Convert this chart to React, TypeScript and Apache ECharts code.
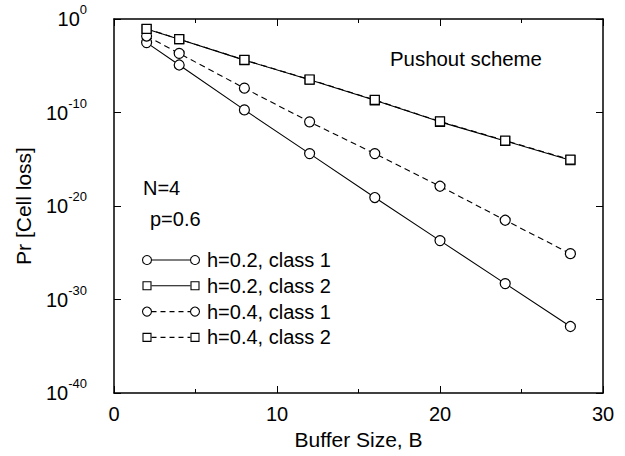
import React, { useEffect, useRef } from 'react';
import * as echarts from 'echarts';

const bufferSizes = [2, 4, 8, 12, 16, 20, 24, 28];
const seriesNames = ['h=0.2, class 1', 'h=0.2, class 2', 'h=0.4, class 1', 'h=0.4, class 2'];
const h02class1 = [3e-3, 1.2e-5, 1.9e-10, 4e-15, 8e-20, 2e-24, 5e-29, 1.3e-33];
const h02class2 = [8.5e-2, 6.8e-3, 4e-5, 3.2e-7, 2e-9, 1e-11, 9e-14, 8e-16];
const h04class1 = [1.5e-2, 2.1e-4, 4e-8, 1e-11, 4e-15, 1.3e-18, 3e-22, 8e-26];
const h04class2 = [9e-2, 7e-3, 4.2e-5, 3.4e-7, 2.2e-9, 1.1e-11, 1e-13, 9e-16];
const seriesValues = [h02class1, h02class2, h04class1, h04class2];
const seriesSymbols = ['circle', 'rect', 'circle', 'rect'];
const seriesDashed = [false, false, true, true];
const annotations = ['Pushout scheme', 'N=4', 'p=0.6'];
// y axis: decades (powers of ten) from 10^-40 to 10^0
const yMinExp = -40;
const yMaxExp = 0;

const FONT = '"Liberation Sans", Arial, Helvetica, sans-serif';

export default function App() {
  const ref = useRef<HTMLDivElement>(null);
  useEffect(() => {
    if (!ref.current) return;
    const chart = echarts.init(ref.current, null, { renderer: 'svg' });
    const gridLeft = 114, gridTop = 19, gridRight = 22, gridBottom = 63;

    const series = seriesNames.map((name, i) => ({
      name,
      type: 'line',
      data: bufferSizes.map((x, j) => [x, Math.log10(seriesValues[i][j])]),
      symbol: seriesSymbols[i],
      symbolSize: seriesSymbols[i] === 'circle' ? 10 : 9,
      showAllSymbol: true,
      lineStyle: { color: '#000', width: 1.1, type: seriesDashed[i] ? [6, 4] : 'solid' },
      itemStyle: { color: '#fff', borderColor: '#000', borderWidth: 1.2 },
      z: 3,
    }));

    const legendEls: any[] = [];
    seriesNames.forEach((name, i) => {
      const y = 260 + i * 25.8;
      const x1 = 147, x2 = 195;
      const sym = seriesSymbols[i];
      legendEls.push({
        type: 'line',
        shape: { x1: x1 + 4.5, y1: y, x2: x2 - 4.5, y2: y },
        style: { stroke: '#000', lineWidth: 1.1, lineDash: seriesDashed[i] ? [5, 4] : null },
      });
      [x1, x2].forEach((cx) => {
        if (sym === 'circle') {
          legendEls.push({ type: 'circle', shape: { cx, cy: y, r: 4.5 }, style: { fill: '#fff', stroke: '#000', lineWidth: 1.1 } });
        } else {
          legendEls.push({ type: 'rect', shape: { x: cx - 4, y: y - 4, width: 8, height: 8 }, style: { fill: '#fff', stroke: '#000', lineWidth: 1.1 } });
        }
      });
      legendEls.push({
        type: 'text', x: 207, y,
        style: { text: name, fill: '#000', font: `20px ${FONT}`, verticalAlign: 'middle' },
      });
    });

    const yFormatter = (v: number) => `{b|10}{s|${Math.round(v)}}`;

    const yAxisBase = {
      type: 'value', min: yMinExp, max: yMaxExp, interval: 10,
      axisLine: { onZero: false, lineStyle: { color: '#000', width: 1.5 } },
      axisTick: { inside: true, length: 7, lineStyle: { color: '#000' } },
      splitLine: { show: false },
    };
    const xAxisBase = {
      type: 'value', min: 0, max: 30, interval: 10,
      axisLine: { onZero: false, lineStyle: { color: '#000', width: 1.5 } },
      axisTick: { inside: true, length: 7, lineStyle: { color: '#000' } },
      minorTick: { show: true, splitNumber: 2, length: 4, lineStyle: { color: '#000' } },
      splitLine: { show: false },
    };

    chart.setOption({
      animation: false,
      backgroundColor: '#fff',
      textStyle: { fontFamily: FONT },
      grid: { left: gridLeft, top: gridTop, right: gridRight, bottom: gridBottom, show: false, containLabel: false, outerBoundsMode: 'none' },
      xAxis: [
        {
          ...xAxisBase,
          name: 'Buffer Size, B', nameLocation: 'middle', nameGap: 29,
          nameTextStyle: { fontSize: 21, color: '#000', fontFamily: FONT },
          axisLabel: { fontSize: 20, color: '#000', margin: 11, fontFamily: FONT },
        },
        { ...xAxisBase, position: 'top', axisLabel: { show: false } },
      ],
      yAxis: [
        {
          ...yAxisBase,
          name: 'Pr [Cell loss]', nameLocation: 'middle', nameGap: 80,
          nameTextStyle: { fontSize: 21, color: '#000', fontFamily: FONT },
          axisLabel: {
            formatter: yFormatter, margin: 27, color: '#000',
            rich: {
              b: { fontSize: 20, lineHeight: 20, color: '#000', fontFamily: FONT },
              s: { fontSize: 13, lineHeight: 14, padding: [0, 0, 19, 0], color: '#000', fontFamily: FONT },
            },
          },
        },
        { ...yAxisBase, position: 'right', axisLabel: { show: false } },
      ],
      graphic: [
        { type: 'text', x: 390, y: 59, style: { text: annotations[0], fill: '#000', font: `20.4px ${FONT}`, verticalAlign: 'middle' } },
        { type: 'text', x: 143, y: 188, style: { text: annotations[1], fill: '#000', font: `20px ${FONT}`, verticalAlign: 'middle' } },
        { type: 'text', x: 150, y: 219, style: { text: annotations[2], fill: '#000', font: `20px ${FONT}`, verticalAlign: 'middle' } },
        ...legendEls,
      ],
      series,
    });
    return () => chart.dispose();
  }, []);
  return <div ref={ref} style={{ position: 'fixed', left: 0, top: 0, width: 625, height: 456 }} />;
}
